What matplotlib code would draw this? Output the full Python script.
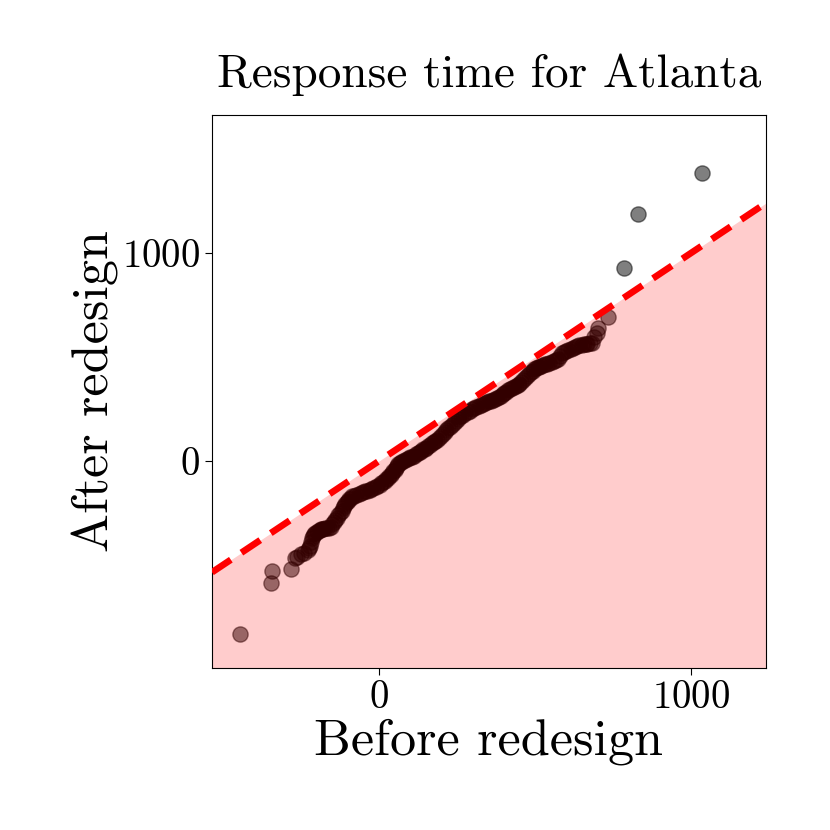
import matplotlib
matplotlib.use('Agg')
import matplotlib.pyplot as plt
import numpy as np

plt.rcParams['font.family'] = 'serif'
plt.rcParams['font.serif'] = ['cmr10']
plt.rcParams['mathtext.fontset'] = 'cm'
plt.rcParams['axes.formatter.use_mathtext'] = True

# quantiles
before = [-446, -346, -342, -282, -270, -263, -250, -240,
          -228, -225, -222, -219, -216, -212, -208, -204, -199, -195,
          -190, -186, -183, -178, -172, -166, -160, -155, -150, -145,
          -140, -135, -130, -125, -120, -116, -112, -108, -104, -100,
          -95, -90, -85, -79, -72, -65, -58, -51, -44, -37,
          -30, -24, -18, -11, -5, 2, 8, 13, 18, 23,
          28, 33, 38, 42, 46, 50, 54, 58, 62, 67,
          72, 78, 84, 90, 96, 101, 106, 112, 118, 124,
          130, 136, 142, 147, 152, 158, 164, 170, 176, 181,
          186, 192, 198, 204, 210, 216, 222, 228, 234, 240,
          246, 252, 258, 264, 270, 277, 284, 291, 298, 305,
          312, 319, 326, 333, 340, 347, 354, 360, 366, 372,
          378, 384, 390, 396, 402, 408, 414, 420, 426, 432,
          438, 444, 450, 456, 462, 468, 474, 480, 486, 492,
          497, 502, 508, 514, 520, 526, 532, 539, 546, 553,
          560, 566, 572, 579, 586, 593, 600, 607, 614, 621,
          628, 635, 642, 649, 656, 662, 668, 675, 682, 690,
          698, 703, 735, 786, 831, 1034]
after = [-832, -588, -529, -521, -468, -460, -445, -440,
         -430, -420, -408, -390, -370, -360, -352, -346, -340, -336,
         -332, -329, -326, -325, -324, -324, -324, -315, -305, -295,
         -284, -273, -262, -250, -238, -226, -215, -206, -198, -192,
         -185, -178, -170, -166, -162, -158, -155, -150, -146, -142,
         -138, -134, -130, -126, -122, -115, -108, -102, -95, -88,
         -80, -72, -65, -58, -50, -41, -32, -23, -14, -9,
         -5, 0, 5, 10, 14, 18, 21, 26, 32, 38,
         44, 50, 56, 60, 64, 71, 78, 85, 92, 97,
         102, 111, 120, 130, 140, 149, 158, 165, 172, 181,
         190, 200, 210, 216, 222, 229, 235, 242, 248, 254,
         260, 264, 268, 273, 277, 282, 286, 290, 294, 298,
         302, 308, 314, 321, 328, 334, 340, 345, 350, 355,
         360, 366, 372, 381, 390, 400, 410, 419, 428, 434,
         440, 445, 450, 454, 458, 461, 464, 468, 472, 476,
         480, 485, 490, 504, 518, 524, 530, 535, 540, 545,
         550, 553, 556, 559, 562, 563, 564, 565, 566, 595,
         614, 638, 694, 929, 1189, 1386]

xlim = (-535, 1240)
ylim = (-995, 1663)

fig = plt.figure(figsize=(8.3, 8.3), dpi=100)
ax = fig.add_axes([0.2554, 0.1952, 0.6675, 0.6662])

ax.scatter(before, after, s=120, color='black', alpha=0.5, edgecolors='black',
           linewidths=1, zorder=1)
# shaded region below the diagonal goes over the points
xs = np.array(xlim)
ax.fill_between(xs, xs, ylim[0], color='red', alpha=0.2, linewidth=0, zorder=2)
ax.plot(xs, xs, color='red', lw=4.8, ls=(0, (3.4, 1.9)), zorder=3)

ax.set_xlim(xlim)
ax.set_ylim(ylim)
ax.set_xticks([0, 1000])
ax.set_yticks([0, 1000])
ax.tick_params(labelsize=28, length=5)
ax.set_xlabel('Before redesign', fontsize=37.5, labelpad=2)
ax.set_ylabel('After redesign', fontsize=37.5, labelpad=2)
ax.set_title('Response time for Atlanta', fontsize=34, pad=20)

fig.savefig('out.png', dpi=100)
